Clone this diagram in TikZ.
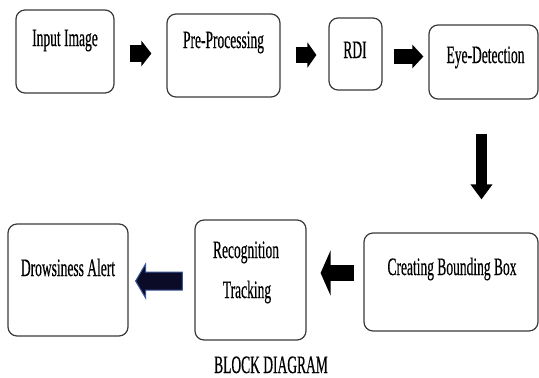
\documentclass[tikz,border=0pt]{standalone}
\usepackage{fontspec}
\setmainfont{Liberation Serif}[FakeStretch=0.54,FakeBold=0.4]
\usetikzlibrary{arrows.meta,calc}
\definecolor{edge}{HTML}{3A3A3A}
\definecolor{navyfill}{HTML}{0B0B28}
\definecolor{navyrim}{HTML}{3A5699}
\begin{document}
\begin{tikzpicture}[x=1pt,y=-1pt,
  box/.style={draw=edge,line width=1.2pt,rounded corners=9pt,fill=white,inner sep=0pt},
  lbl/.style={anchor=base,inner sep=0pt,font=\fontsize{25}{28}\selectfont},
  blk/.style={draw=black,line cap=butt},
]
\useasboundingbox (0,0) rectangle (539,378);

% process blocks
\node[box,minimum width=98,minimum height=83]  (inp) at (65,51.5) {};
\node[box,minimum width=113,minimum height=83] (pre) at (223.5,55.5) {};
\node[box,minimum width=53,minimum height=72]  (rdi) at (355.5,54) {};
\node[box,minimum width=109,minimum height=74] (eye) at (483.5,62) {};
\node[box,minimum width=174,minimum height=98] (cbb) at (451,282) {};
\node[box,minimum width=111,minimum height=120] (rec) at (250.5,280) {};
\node[box,minimum width=120,minimum height=112] (drw) at (68,280) {};

% block texts
\node[lbl] (tinp) at (65,46) {Input Image};
\node[lbl] (tpre) at (223.5,48) {Pre-Processing};
\node[lbl] (trdi) at (355,58) {RDI};
\node[lbl] (teye) at (485.5,63) {Eye-Detection};
\node[lbl] (tcbb) at (452,275) {Creating Bounding Box};
\node[lbl] (trec1) at (246,258) {Recognition};
\node[lbl] (trec2) at (247,298) {Tracking};
\node[lbl] (tdrw) at (68,276) {Drowsiness Alert};
\node[lbl] (cap) at (271,373) {BLOCK DIAGRAM};

% block arrows between the stages
\draw[blk,line width=17pt,-{Triangle[length=10pt,width=25pt]}]
  ($(inp.east)+(15,2)$) -- ($(pre.west)+(-15,-2)$);
\draw[blk,line width=16pt,-{Triangle[length=9pt,width=25pt]}]
  ($(pre.east)+(15,-0.5)$) -- ($(rdi.west)+(-12,1)$);
\draw[blk,line width=15pt,-{Triangle[length=11pt,width=23pt]}]
  ($(rdi.east)+(11,2.5)$) -- ($(eye.west)+(-5,-5.5)$);
\draw[blk,line width=11pt,-{Triangle[length=15pt,width=21pt]}]
  ($(eye.south)+(-2,34)$) -- ($(cbb.north)+(30.5,-33)$);
\draw[blk,line width=16pt,-{Triangle[length=10pt,width=45pt]}]
  ($(cbb.west)+(-9,-9)$) -- ($(rec.east)+(14,-7)$);

% dark blue outlined arrow into the alert block
\coordinate (ns) at ($(rec.west)+(-12,1)$);
\coordinate (ne) at ($(drw.east)+(7,1)$);
\draw[navyrim,line width=1pt,fill=navyfill,line join=miter]
  ($(ns)+(0,-9)$) -- ($(ne)+(10,-9)$) -- ($(ne)+(10,-17)$) -- (ne)
  -- ($(ne)+(10,17)$) -- ($(ne)+(10,9)$) -- ($(ns)+(0,9)$) -- cycle;
\end{tikzpicture}
\end{document}
